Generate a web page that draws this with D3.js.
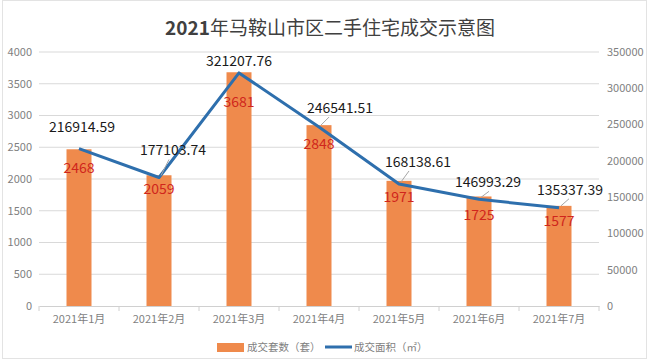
<!DOCTYPE html>
<html>
<head>
<meta charset="utf-8">
<script src="https://cdn.jsdelivr.net/npm/d3@7"></script>
<style>
  body { margin: 0; background: #fff; }
  svg { display: block; font-family: "Noto Sans CJK SC", "Noto Sans", sans-serif; }
</style>
</head>
<body>
<div id="chart"></div>
<script>
let months = ["2021年1月", "2021年2月", "2021年3月", "2021年4月", "2021年5月", "2021年6月", "2021年7月"];
let units = [2468, 2059, 3681, 2848, 1971, 1725, 1577];
let area = [216914.59, 177103.74, 321207.76, 246541.51, 168138.61, 146993.29, 135337.39];
let leftTicks = [0, 500, 1000, 1500, 2000, 2500, 3000, 3500, 4000];
let rightTicks = [0, 50000, 100000, 150000, 200000, 250000, 300000, 350000];
// where the labels sit relative to their mark
let unitLabelDy = [24, 19, 35, 24, 21, 24, 20];
let areaLabelPos = [[3, -17], [14, -22], [0, -7], [21, -14], [19, -17], [9, -12], [11, -13]];

let width = 650, height = 359;
let plot = { left: 39, right: 599, top: 52, bottom: 306 };

let svg = d3.select("#chart").append("svg")
    .attr("width", width)
    .attr("height", height);

svg.append("rect")
    .attr("x", 2.5).attr("y", 0.5)
    .attr("width", width - 6).attr("height", height - 1)
    .attr("fill", "#fff")
    .attr("stroke", "#e3e3e3");

let x = d3.scaleBand().domain(months).range([plot.left, plot.right]);
let yL = d3.scaleLinear().domain([0, 4000]).range([plot.bottom, plot.top]);
let yR = d3.scaleLinear().domain([0, 350000]).range([plot.bottom, plot.top]);
let cx = i => x(months[i]) + x.bandwidth() / 2;

// gridlines
svg.append("g")
    .selectAll("line")
    .data(leftTicks.slice(1))
    .join("line")
    .attr("x1", plot.left).attr("x2", plot.right)
    .attr("y1", d => yL(d)).attr("y2", d => yL(d))
    .attr("stroke", "#d9d9d9");

// left axis labels
svg.append("g")
    .selectAll("text")
    .data(leftTicks)
    .join("text")
    .attr("x", 32)
    .attr("y", d => yL(d))
    .attr("dy", "0.35em")
    .attr("text-anchor", "end")
    .attr("font-size", 11)
    .attr("fill", "#7f7f7f")
    .text(d => d);

// right axis labels
svg.append("g")
    .selectAll("text")
    .data(rightTicks)
    .join("text")
    .attr("x", 607)
    .attr("y", d => yR(d))
    .attr("dy", "0.35em")
    .attr("font-size", 11)
    .attr("fill", "#7f7f7f")
    .text(d => d);

// bars
let barW = 25;
svg.append("g")
    .selectAll("rect")
    .data(units)
    .join("rect")
    .attr("x", (d, i) => cx(i) - barW / 2)
    .attr("y", d => yL(d))
    .attr("width", barW)
    .attr("height", d => plot.bottom - yL(d))
    .attr("fill", "#ef8a4c");

// x axis
let xAxis = svg.append("g")
    .attr("transform", `translate(0,${plot.bottom})`)
    .call(d3.axisBottom(x).tickSize(0).tickPadding(9));
xAxis.select(".domain").attr("stroke", "#d0d0d0");
xAxis.selectAll("text").attr("font-size", 11).attr("fill", "#7f7f7f")
    .attr("font-family", "\"Noto Sans CJK SC\", sans-serif");
xAxis.selectAll(".sep")
    .data(d3.range(months.length + 1))
    .join("line")
    .attr("class", "sep")
    .attr("x1", i => plot.left + i * x.bandwidth())
    .attr("x2", i => plot.left + i * x.bandwidth())
    .attr("y1", 0).attr("y2", 5)
    .attr("stroke", "#d0d0d0");

// bar value labels
svg.append("g")
    .selectAll("text")
    .data(units)
    .join("text")
    .attr("x", (d, i) => cx(i))
    .attr("y", (d, i) => yL(d) + unitLabelDy[i])
    .attr("text-anchor", "middle")
    .attr("font-size", 14)
    .attr("fill", "#d0261c")
    .text(d => d);

// area line
let line = d3.line()
    .x((d, i) => cx(i))
    .y(d => yR(d));

svg.append("path")
    .datum(area)
    .attr("d", line)
    .attr("fill", "none")
    .attr("stroke", "#2e6fad")
    .attr("stroke-width", 3)
    .attr("stroke-linejoin", "round");

// area labels, with short leader lines where the label was moved off the point
let lab = svg.append("g");
area.forEach((d, i) => {
    let px = cx(i);
    let py = yR(d);
    let [dx, dy] = areaLabelPos[i];
    if (dx > 8) {
        lab.append("line")
            .attr("x1", px + 2).attr("y1", py - 2)
            .attr("x2", px + 10).attr("y2", py + dy + 4)
            .attr("stroke", "#a6a6a6");
    }
    lab.append("text")
        .attr("x", px + dx)
        .attr("y", py + dy)
        .attr("text-anchor", "middle")
        .attr("font-size", 14)
        .attr("fill", "#1a1a1a")
        .text(d.toFixed(2));
});

// title
let title = svg.append("text")
    .attr("x", 330)
    .attr("y", 35)
    .attr("text-anchor", "middle")
    .attr("font-size", 19)
    .attr("fill", "#404040");
title.append("tspan").attr("font-weight", "bold").text("2021");
title.append("tspan").text("年马鞍山市区二手住宅成交示意图");

// legend
let lg = svg.append("g").attr("transform", "translate(217,347)");
lg.append("rect").attr("x", 0).attr("y", -4).attr("width", 27).attr("height", 9).attr("fill", "#ef8a4c");
lg.append("text").attr("x", 30).attr("y", 0).attr("dy", "0.35em")
    .attr("font-size", 10.5).attr("fill", "#7f7f7f").text("成交套数（套）");
lg.append("line").attr("x1", 108).attr("x2", 135).attr("y1", 0).attr("y2", 0)
    .attr("stroke", "#2e6fad").attr("stroke-width", 3);
lg.append("text").attr("x", 137).attr("y", 0).attr("dy", "0.35em")
    .attr("font-size", 10.5).attr("fill", "#7f7f7f").text("成交面积（㎡）");
</script>
</body>
</html>
